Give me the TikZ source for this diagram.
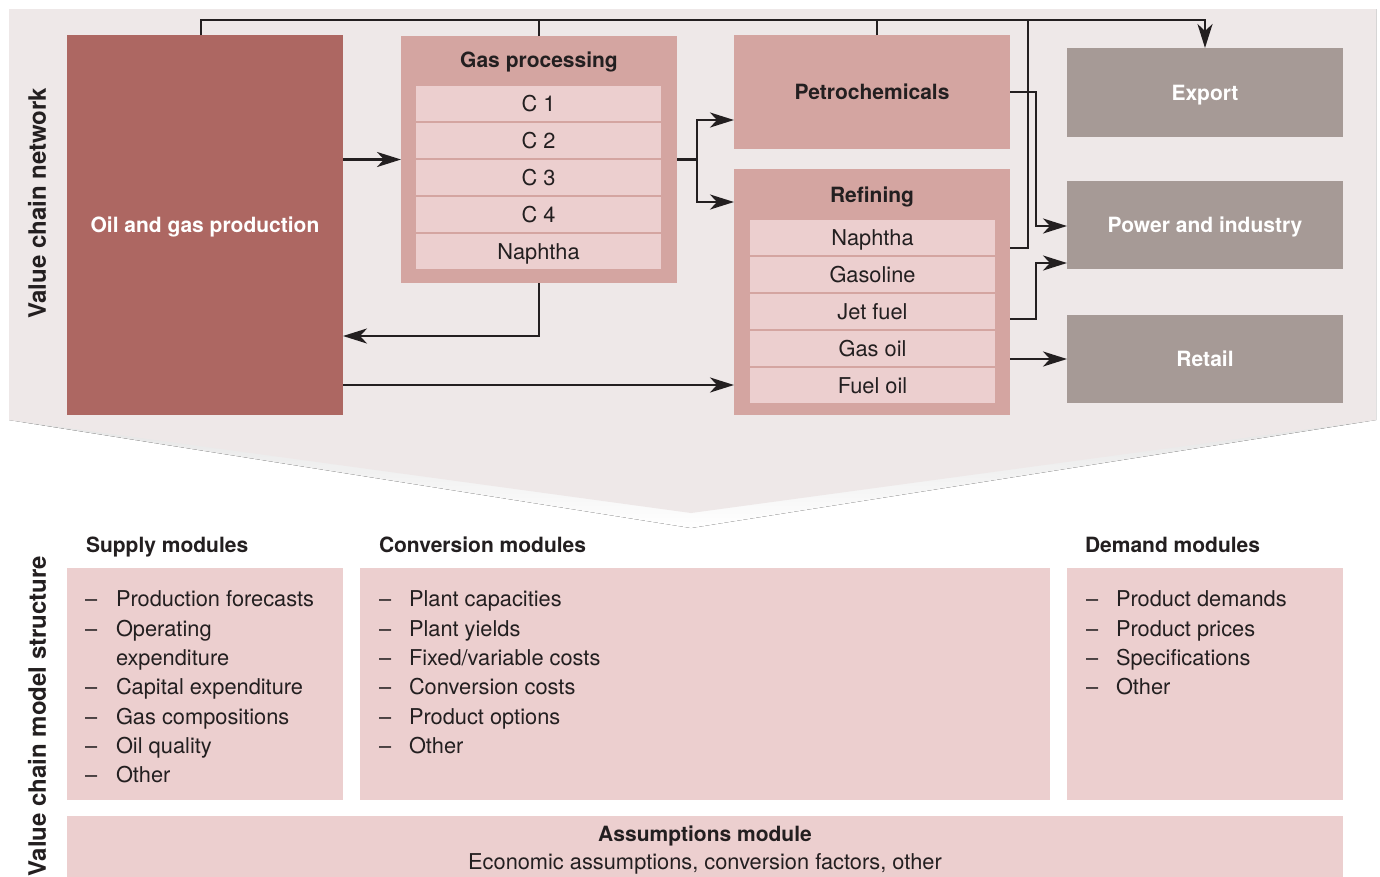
\documentclass[tikz,border=0pt]{standalone}
\usepackage{fontspec}
\setmainfont{TeX Gyre Heros}
\usetikzlibrary{arrows.meta,calc}
\definecolor{panel}{RGB}{238,232,232}
\definecolor{shade}{RGB}{220,211,211}
\definecolor{oilc}{RGB}{173,103,98}
\definecolor{midp}{RGB}{212,165,161}
\definecolor{lightp}{RGB}{236,207,207}
\definecolor{greyb}{RGB}{166,154,150}
\definecolor{ink}{RGB}{35,31,32}
\begin{document}
\begin{tikzpicture}[x=1pt,y=-1pt,
  blk/.style={inner sep=0pt, outer sep=0pt, draw=none, align=center},
  txt/.style={inner sep=0pt, outer sep=0pt, text height=19.5pt, text depth=4pt, font=\fontsize{21.8}{26}\selectfont, text=ink},
  btxt/.style={txt, font=\fontsize{21}{25}\selectfont\bfseries},
  wtxt/.style={btxt, text=white},
  side/.style={inner sep=0pt, rotate=90, text height=21.5pt, text depth=4pt, font=\fontsize{24}{28}\selectfont\bfseries, text=ink},
  rowbox/.style={blk, fill=lightp, minimum width=245pt, minimum height=35pt, txt},
  ln/.style={draw=ink, line width=2.6pt, line join=miter},
  arr/.style={ln, -{Stealth[length=24pt,width=15pt,inset=7pt]}}]
\clip (0,0) rectangle (1380,876);
\fill[white] (0,0) rectangle (1380,876);
% background panel with chevron
\fill[shade] (9,9) -- (1376,9) -- (1376,420) -- (691,528) -- (9,420) -- cycle;
\fill[panel] (9,9) -- (1376,9) -- (1376,420) -- (691,513) -- (9,420) -- cycle;
% side labels
\node[side] (lnet) at (37,203) {Value chain network};
\node[side] (lstr) at (37,716) {Value chain model structure};
% network boxes
\node[blk, fill=oilc, minimum width=276pt, minimum height=380pt] (oil) at (205,225) {};
\node[wtxt] (oilt) at (205,225) {Oil and gas production};
\node[blk, fill=midp, minimum width=276pt, minimum height=247pt] (gp) at (539,159.5) {};
\node[btxt] (gpt) at (539,60) {Gas processing};
\foreach \t [count=\i] in {C 1, C 2, C 3, C 4, Naphtha}
  \node[rowbox] (gp\i) at (538.5,{103.5+37*(\i-1)}) {\t};
\node[blk, fill=midp, minimum width=276pt, minimum height=114pt] (petro) at (872,92) {};
\node[btxt] (petrot) at (872,92) {Petrochemicals};
\node[blk, fill=midp, minimum width=276pt, minimum height=246pt] (ref) at (872,292) {};
\node[btxt] (reft) at (872,195) {Refining};
\foreach \t [count=\i] in {Naphtha, Gasoline, Jet fuel, Gas oil, Fuel oil}
  \node[rowbox] (rf\i) at (872.5,{237.5+37*(\i-1)}) {\t};
\node[blk, fill=greyb, minimum width=276pt, minimum height=89pt] (exp) at (1205,92.5) {};
\node[wtxt] (expt) at (1205,92.5) {Export};
\node[blk, fill=greyb, minimum width=276pt, minimum height=88pt] (pow) at (1205,225) {};
\node[wtxt] (powt) at (1205,225) {Power and industry};
\node[blk, fill=greyb, minimum width=276pt, minimum height=88pt] (ret) at (1205,359) {};
\node[wtxt] (rett) at (1205,359) {Retail};
% junction coordinates
\coordinate (top) at (0,20);
\coordinate (jA) at (1028,0);
\coordinate (jB) at (1036,0);
\coordinate (jC) at (697,0);
% connectors
\draw[arr] ([xshift=-4pt]oil.north) -- ([xshift=-4pt]oil.north |- top) -- (exp.north |- top) -- (exp.north);
\draw[ln] (gp.north) -- (gp.north |- top);
\draw[ln] ([xshift=5pt]petro.north) -- ([xshift=5pt]petro.north |- top);
\draw[ln] (ref.east |- 0,248) -- (jA |- 0,248) -- (jA |- top);
\draw[arr] (oil.east |- gp.west) -- (gp.west);
\draw[ln] (gp.east) -- (jC |- gp.east);
\draw[arr] (jC |- 0,161) -- (jC |- 0,120) -- (petro.west |- 0,120);
\draw[arr] (jC |- 0,161) -- (jC |- 0,202) -- (ref.west |- 0,202);
\draw[arr] (gp.south) -- (gp.south |- 0,336) -- (oil.east |- 0,336);
\draw[arr] (oil.east |- 0,385) -- (ref.west |- 0,385);
\draw[arr] (petro.east) -- (jB |- petro.east) -- (jB |- 0,226) -- (pow.west |- 0,226);
\draw[arr] (ref.east |- 0,319) -- (jB |- 0,319) -- (jB |- 0,263) -- (pow.west |- 0,263);
\draw[arr] (ref.east |- ret.west) -- (ret.west);
% module structure
\node[btxt, anchor=west] (supt) at (86,545) {Supply modules};
\node[btxt, anchor=west] (cont) at (379,545) {Conversion modules};
\node[btxt, anchor=west] (demt) at (1085,545) {Demand modules};
\node[blk, fill=lightp, minimum width=276pt, minimum height=232pt] (sup) at (205,684) {};
\node[blk, fill=lightp, minimum width=690pt, minimum height=232pt] (con) at (705,684) {};
\node[blk, fill=lightp, minimum width=276pt, minimum height=232pt] (dem) at (1205,684) {};
\node[blk, fill=lightp, minimum width=1276pt, minimum height=70pt] (asm) at (705,851) {};
\node[btxt] (asmt) at (705,834) {Assumptions module};
\node[txt] (asms) at (705,862) {Economic assumptions, conversion factors, other};
\foreach \t/\d [count=\i] in {Production forecasts/1, Operating/1, expenditure/0, Capital expenditure/1, Gas compositions/1, Oil quality/1, Other/1} {
  \node[txt, anchor=west] (supi\i) at (116,{599+29.33*(\i-1)}) {\t};
  \ifnum\d=1 \node[txt, anchor=west] (supd\i) at (85,{599+29.33*(\i-1)}) {–}; \fi
}
\foreach \t [count=\i] in {Plant capacities, Plant yields, {Fixed/variable costs}, Conversion costs, Product options, Other} {
  \node[txt, anchor=west] (coni\i) at (409,{599+29.33*(\i-1)}) {\t};
  \node[txt, anchor=west] (cond\i) at (379,{599+29.33*(\i-1)}) {–};
}
\foreach \t [count=\i] in {Product demands, Product prices, Specifications, Other} {
  \node[txt, anchor=west] (demi\i) at (1116,{599+29.33*(\i-1)}) {\t};
  \node[txt, anchor=west] (demd\i) at (1086,{599+29.33*(\i-1)}) {–};
}
\end{tikzpicture}
\end{document}
